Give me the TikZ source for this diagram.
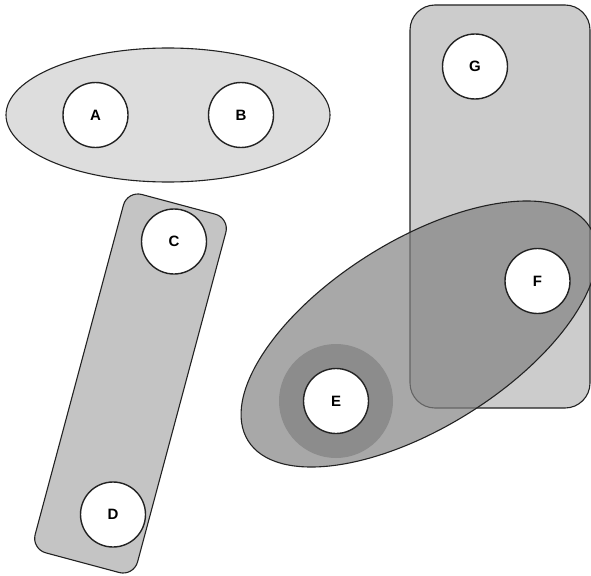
\documentclass[tikz,border=0pt]{standalone}
\usepackage{fontspec}
\setmainfont{Liberation Sans}
\usetikzlibrary{shapes.geometric}
\definecolor{abfill}{RGB}{221,221,221}
\definecolor{cdfill}{RGB}{196,196,196}
\definecolor{gfill}{RGB}{204,204,204}
\definecolor{effill}{RGB}{130,130,130}
\definecolor{halofill}{RGB}{140,140,140}
\definecolor{edge}{RGB}{34,34,34}
\begin{document}
\begin{tikzpicture}[x=1pt,y=-1pt,
  member/.style={circle, draw=edge, line width=1.4pt, fill=white, minimum size=65pt, inner sep=0pt, font=\fontsize{15}{18}\selectfont\bfseries},
  grouping/.style={draw=edge, line width=1.1pt, inner sep=0pt}]
\useasboundingbox (0,0) rectangle (591,575);
\fill[white] (0,0) rectangle (591,575);

\node[grouping, ellipse, fill=abfill, minimum width=324pt, minimum height=134pt] (ab) at (168,115) {};
\node[member] (A) at (95.5,115) {A};
\node[member] (B) at (241,115) {B};

\node[grouping, rectangle, rounded corners=15pt, fill=cdfill, minimum width=106pt, minimum height=371pt, rotate=-15] (cd) at (130.5,383.5) {};
\node[member] (C) at (174,241.5) {C};
\node[member] (D) at (113,514.5) {D};

\node[grouping, rectangle, rounded corners=25pt, fill=gfill, minimum width=180pt, minimum height=403pt] (gg) at (500,206.5) {};
\node[member] (G) at (475,66.5) {G};

\node[grouping, ellipse, fill=effill, fill opacity=0.69, minimum width=403pt, minimum height=187pt, rotate=32] (ef) at (419,334) {};
\node[circle, fill=halofill, minimum size=114pt, inner sep=0pt] (halo) at (336,401) {};
\node[member] (E) at (336,401) {E};
\node[member] (F) at (537.5,281) {F};
\end{tikzpicture}
\end{document}
